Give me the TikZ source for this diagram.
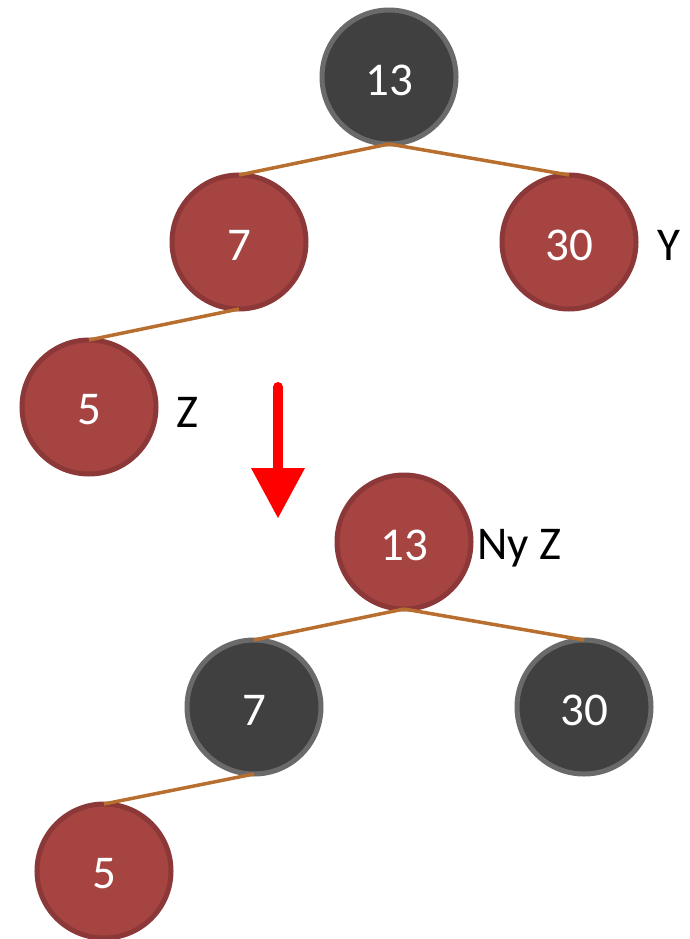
\documentclass[tikz,border=0pt]{standalone}
\usepackage{fontspec}
\setmainfont{Carlito}
\begin{document}
\begin{tikzpicture}[x=1pt,y=-1pt,
  every node/.style={font=\fontsize{47}{50}\selectfont},
  blacknode/.style={circle,minimum size=134pt,inner sep=0pt,outer sep=0pt,
    fill=nodedark,draw=rimdark,line width=5pt,text=white},
  rednode/.style={circle,minimum size=134pt,inner sep=0pt,outer sep=0pt,
    fill=nodered,draw=rimred,line width=5pt,text=white},
  num/.style={text=white,inner sep=0pt},
  tag/.style={text=black,inner sep=0pt},
  edge/.style={draw=edgecol,line width=3.5pt}]
\definecolor{nodedark}{HTML}{404040}
\definecolor{rimdark}{HTML}{6A6A6A}
\definecolor{nodered}{HTML}{A64442}
\definecolor{rimred}{HTML}{8C3838}
\definecolor{edgecol}{HTML}{B86E2E}
\useasboundingbox (0,0) rectangle (689,939);

% tree before recolouring
\node[blacknode] (a13) at (389,77) {};
\node[rednode] (a7) at (239,242) {};
\node[rednode] (a30) at (569,242) {};
\node[rednode] (a5) at (89,407) {};
\node[num] (a13t) at ([yshift=-3pt]a13.center) {13};
\node[num] (a7t) at ([yshift=-3pt]a7.center) {7};
\node[num] (a30t) at ([yshift=-3pt]a30.center) {30};
\node[num] (a5t) at ([yshift=-3pt]a5.center) {5};
\draw[edge] (a13.south) -- (a7.north);
\draw[edge] (a13.south) -- (a30.north);
\draw[edge] (a7.south) -- (a5.north);
\node[tag] (ly) at (669,245) {Y};
\node[tag] (lz) at (188,412) {Z};

% transition arrow
\coordinate (arrtop) at (278,387);
\coordinate (arrbase) at (278,468);
\coordinate (arrtip) at (278,518);
\draw[red,line width=10pt,line cap=round] (arrtop) -- ([yshift=-2pt]arrbase);
\fill[red] ([xshift=-27pt]arrbase) -- ([xshift=27pt]arrbase) -- (arrtip) -- cycle;

% tree after recolouring
\node[rednode] (b13) at (404,542) {};
\node[blacknode] (b7) at (254,707) {};
\node[blacknode] (b30) at (584,707) {};
\node[rednode] (b5) at (104,871) {};
\node[num] (b13t) at ([yshift=-3pt]b13.center) {13};
\node[num] (b7t) at ([yshift=-3pt]b7.center) {7};
\node[num] (b30t) at ([yshift=-3pt]b30.center) {30};
\node[num] (b5t) at ([yshift=-3pt]b5.center) {5};
\draw[edge] (b13.south) -- (b7.north);
\draw[edge] (b13.south) -- (b30.north);
\draw[edge] (b7.south) -- (b5.north);
\node[tag,anchor=west] (lnz) at (477,548) {Ny Z};
\end{tikzpicture}
\end{document}
